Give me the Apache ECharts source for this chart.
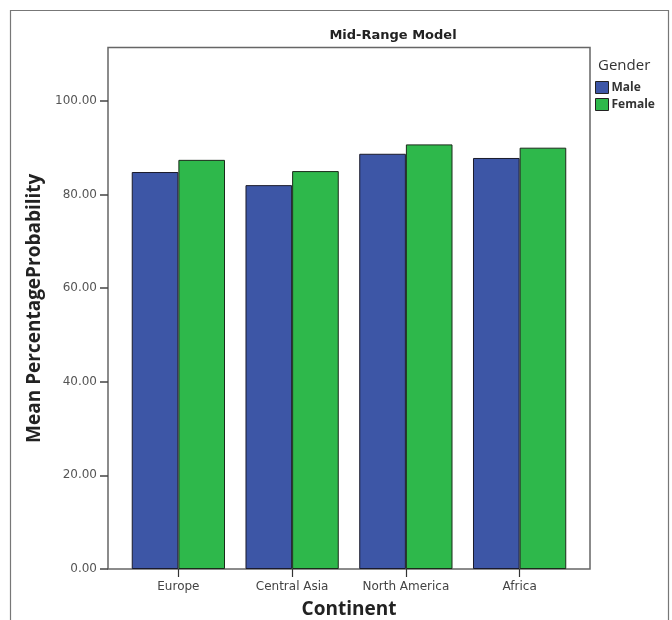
<!DOCTYPE html>
<html>
<head>
<meta charset="utf-8">
<script src="https://cdn.jsdelivr.net/npm/echarts@6/dist/echarts.min.js"></script>
<style>
  html, body { margin: 0; padding: 0; background: #fff; }
  #chart { width: 672px; height: 620px; }
</style>
</head>
<body>
<div id="chart"></div>
<script>
const categories = ['Europe', 'Central Asia', 'North America', 'Africa'];
const maleValues = [84.8, 82.0, 88.7, 87.8];
const femaleValues = [87.4, 85.0, 90.7, 90.0];
const yTickValues = [0, 20, 40, 60, 80, 100];
const seriesNames = ['Male', 'Female'];

const FONT = '"Open Sans", "Noto Sans", sans-serif';
const FONT2 = '"DejaVu Sans", sans-serif';
const chart = echarts.init(document.getElementById('chart'), null, { renderer: 'canvas' });

const option = {
  backgroundColor: '#ffffff',
  animation: false,
  graphic: [{
    type: 'rect',
    shape: { x: 10.5, y: 10.5, width: 658, height: 640 },
    style: { fill: 'none', stroke: '#777', lineWidth: 1.2 },
    silent: true
  }],
  title: [
    {
      text: 'Mid-Range Model',
      left: 388, top: 24, textAlign: 'center',
      textStyle: { fontFamily: FONT2, fontSize: 13, fontWeight: 'bold', color: '#222' }
    },
    {
      text: 'Gender',
      left: 593, top: 53,
      textStyle: { fontFamily: FONT, fontSize: 15, fontWeight: 'normal', color: '#333' }
    }
  ],
  legend: {
    orient: 'vertical',
    left: 595, top: 81, padding: 0,
    itemWidth: 13, itemHeight: 12, itemGap: 4,
    icon: 'rect',
    data: seriesNames,
    textStyle: { fontFamily: FONT, fontSize: 12, fontWeight: 'bold', color: '#333', padding: [0, 0, 0, -2] },
    itemStyle: { borderColor: '#222', borderWidth: 1 }
  },
  grid: [
    { left: 121.5, top: 47.5, width: 455, height: 521.5, containLabel: false, outerBoundsMode: 'none' },
    { left: 108, top: 47.5, width: 482, height: 521.5, show: true, borderColor: '#666', borderWidth: 1.5, backgroundColor: 'transparent', outerBoundsMode: 'none' }
  ],
  xAxis: [
    {
      type: 'category', gridIndex: 0, data: categories,
      axisLine: { show: false },
      axisTick: { show: true, alignWithLabel: true, length: 8, lineStyle: { color: '#333', width: 1.2 } },
      axisLabel: { fontFamily: FONT2, fontSize: 12, color: '#444', margin: 12 },
      name: 'Continent', nameLocation: 'middle', nameGap: 31,
      nameTextStyle: { fontFamily: FONT, fontSize: 19, fontWeight: 'bold', color: '#222' }
    },
    { type: 'value', gridIndex: 1, show: false }
  ],
  yAxis: [
    {
      type: 'value', gridIndex: 0, min: 0, max: 111.4, interval: 20, offset: 13.5,
      axisLine: { show: false },
      axisTick: { show: true, length: 8, customValues: yTickValues, lineStyle: { color: '#444', width: 1.5 } },
      axisLabel: {
        customValues: yTickValues,
        fontFamily: FONT2, fontSize: 12, color: '#555', margin: 11,
        formatter: v => v.toFixed(2)
      },
      splitLine: { show: false },
      name: 'Mean PercentageProbability', nameLocation: 'middle', nameGap: 62,
      nameTextStyle: { fontFamily: FONT, fontSize: 19, fontWeight: 'bold', color: '#222' }
    },
    { type: 'value', gridIndex: 1, show: false }
  ],
  series: [
    {
      name: seriesNames[0], type: 'bar', xAxisIndex: 0, yAxisIndex: 0,
      data: maleValues, barGap: '0%', barCategoryGap: '18%',
      itemStyle: { color: '#3D56A6', borderColor: '#1a1a2a', borderWidth: 1 }
    },
    {
      name: seriesNames[1], type: 'bar', xAxisIndex: 0, yAxisIndex: 0,
      data: femaleValues, barGap: '0%', barCategoryGap: '18%',
      itemStyle: { color: '#2EB84B', borderColor: '#1a2a1a', borderWidth: 1 }
    }
  ]
};
chart.setOption(option);
</script>
</body>
</html>
